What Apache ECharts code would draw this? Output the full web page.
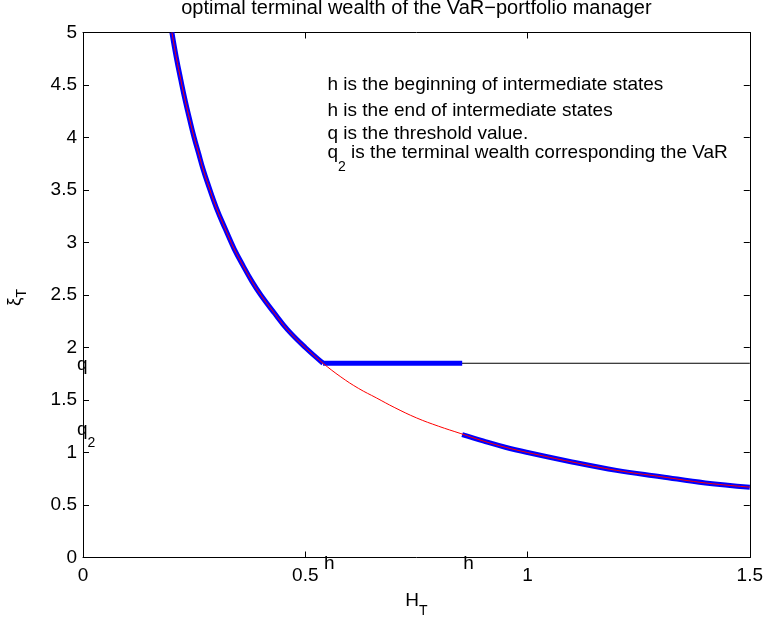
<!DOCTYPE html>
<html><head><meta charset="utf-8">
<script src="https://cdn.jsdelivr.net/npm/echarts@6/dist/echarts.min.js"></script>
<style>html,body{margin:0;padding:0;background:#fff}#c{width:766px;height:623px}</style>
</head><body><div id="c"></div>
<script>
// ---- data ----
const curveX = [0.20,0.21,0.22,0.23,0.24,0.25,0.26,0.27,0.28,0.30,0.32,0.34,0.36,0.38,0.40,0.43,0.46,0.50,0.54,0.58,0.62,0.66,0.70,0.75,0.80,0.85,0.90,0.95,1.00,1.10,1.20,1.30,1.40,1.50];
const curveY = [5.00,4.76,4.55,4.35,4.17,4.00,3.85,3.70,3.57,3.33,3.13,2.94,2.78,2.63,2.50,2.33,2.17,2.00,1.85,1.72,1.61,1.52,1.43,1.33,1.25,1.18,1.11,1.05,1.00,0.91,0.83,0.77,0.71,0.67];
const upperBlueX = [0.20,0.21,0.22,0.23,0.24,0.25,0.26,0.27,0.28,0.30,0.32,0.34,0.36,0.38,0.40,0.43,0.46,0.50,0.54];
const upperBlueY = [5.00,4.76,4.55,4.35,4.17,4.00,3.85,3.70,3.57,3.33,3.13,2.94,2.78,2.63,2.50,2.33,2.17,2.00,1.85];
const plateauX = [0.54,0.853];
const plateauY = [1.85,1.85];
const lowerBlueX = [0.853,0.90,0.95,1.00,1.10,1.20,1.30,1.40,1.50];
const lowerBlueY = [1.17,1.11,1.05,1.00,0.91,0.83,0.77,0.71,0.67];
const thresholdX = [0.54,1.50];
const thresholdY = [1.85,1.85];
const hMarks = [0.54,0.853];
const qLevel = 1.85;
const q2Level = 1.17;
const xTickValues = [0,0.5,1,1.5];
const yTickValues = [0,0.5,1,1.5,2,2.5,3,3.5,4,4.5,5];
const titleText = 'optimal terminal wealth of the VaR\u2212portfolio manager';
const noteLines = ['h is the beginning of intermediate states','h is the end of intermediate states','q is the threshold value.',' is the terminal wealth corresponding the VaR'];
const noteX = 0.55;
const noteY = [4.5,4.25,4.04,3.85];

const F = '"Liberation Sans", Arial, Helvetica, sans-serif';
const zip = (xs, ys) => xs.map((x, i) => [x, ys[i]]);

const chart = echarts.init(document.getElementById('c'), null, {renderer:'canvas'});
const axisCommon = {
  type:'value', axisLine:{show:true, onZero:false, lineStyle:{color:'#000', width:1}},
  axisTick:{show:true, inside:true, length:6, lineStyle:{color:'#000'}},
  splitLine:{show:false}
};
chart.setOption({
  animation:false,
  backgroundColor:'#fff',
  grid:{left:83, right:15, top:32.5, bottom:65.5, containLabel:false},
  xAxis:[
    Object.assign({}, axisCommon, {min:0, max:1.5, interval:0.5, position:'bottom',
      axisLabel:{show:true, color:'#000', fontSize:19, fontFamily:F, margin:9,
        formatter:v => xTickValues.includes(v) ? String(v) : ''}}),
    Object.assign({}, axisCommon, {min:0, max:1.5, interval:0.5, position:'top', axisLabel:{show:false}})
  ],
  yAxis:[
    Object.assign({}, axisCommon, {min:0, max:5, interval:0.5, position:'left',
      axisLabel:{show:true, color:'#000', fontSize:19, fontFamily:F, margin:6,
        formatter:v => yTickValues.includes(v) ? String(v) : ''}}),
    Object.assign({}, axisCommon, {min:0, max:5, interval:0.5, position:'right', axisLabel:{show:false}})
  ],
  series:[
    {type:'line', data:zip(thresholdX, thresholdY), symbol:'none', lineStyle:{color:'#000', width:1}, z:2},
    {type:'line', data:zip(upperBlueX, upperBlueY), symbol:'none', smooth:0.4, lineStyle:{color:'#0000ff', width:5}, z:3},
    {type:'line', data:zip(plateauX, plateauY), symbol:'none', lineStyle:{color:'#0000ff', width:5}, z:3},
    {type:'line', data:zip(lowerBlueX, lowerBlueY), symbol:'none', smooth:0.4, lineStyle:{color:'#0000ff', width:5}, z:3},
    {type:'line', data:zip(curveX, curveY), symbol:'none', smooth:0.4, lineStyle:{color:'#ff0000', width:1}, z:4}
  ]
});

// ---- text elements, anchored through the axes ----
const mctx = document.createElement('canvas').getContext('2d');
function tw(s, size){ mctx.font = size + 'px ' + F; return mctx.measureText(s).width; }
const px = (x, y) => chart.convertToPixel({gridIndex:0}, [x, y]);
function txt(text, x, y, size, align){
  return {type:'text', x:x, y:y, z:100, style:{text:text, fontSize:size, fontFamily:F, fill:'#000', align:align || 'left', verticalAlign:'middle'}};
}
const els = [];
const pL = px(0,0), pR = px(1.5,0), pT = px(0,5);
const cx = (pL[0] + pR[0]) / 2;
els.push(txt(titleText, cx, pT[1] - 24, 20, 'center'));
for (let i = 0; i < 3; i++) {
  const p = px(noteX, noteY[i]);
  els.push(txt(noteLines[i], p[0], p[1], 19));
}
{
  const p = px(noteX, noteY[3]);
  const wq = tw('q', 19);
  els.push(txt('q', p[0], p[1], 19));
  els.push(txt('2', p[0] + wq, p[1] + 14, 14));
  els.push(txt(noteLines[3], p[0] + wq + tw('2', 14), p[1], 19));
}
{
  const p = px(0, qLevel);
  els.push(txt('q', p[0] - 6, p[1] + 2, 19));
  const p2 = px(0, q2Level);
  els.push(txt('q', p2[0] - 6, p2[1] - 5, 19));
  els.push(txt('2', p2[0] - 6 + tw('q', 19), p2[1] + 8, 14));
}
hMarks.forEach(h => {
  const p = px(h, 0);
  els.push(txt('h', p[0] + 1, p[1] + 6, 19));
});
{
  const wH = tw('H', 19), wT = tw('T', 14);
  const x0 = cx - (wH + wT) / 2;
  els.push(txt('H', x0, pL[1] + 43, 19));
  els.push(txt('T', x0 + wH, pL[1] + 54, 14));
}
{
  const wX = tw('\u03be', 19);
  els.push({type:'group', x:15, y:306, rotation:Math.PI/2, z:100, children:[
    {type:'text', x:0, y:0, style:{text:'\u03be', fontSize:19, fontFamily:F, fill:'#000', align:'left', verticalAlign:'middle'}},
    {type:'text', x:wX, y:7, style:{text:'T', fontSize:14, fontFamily:F, fill:'#000', align:'left', verticalAlign:'middle'}}
  ]});
}
chart.setOption({graphic:{elements:els}});
</script>
</body></html>
